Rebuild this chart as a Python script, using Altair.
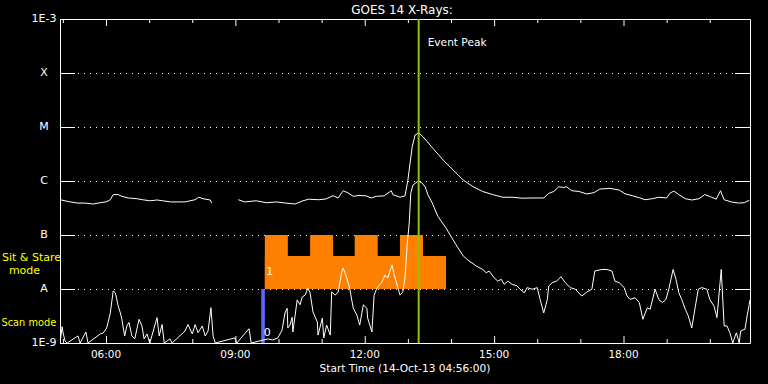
import altair as alt
import pandas as pd

FONT = "DejaVu Sans"

# ---------------- data ----------------
x_start, x_end = "04:56", "20:56"

# GOES 14 long channel (1-8 A), W/m^2
long_time = ["04:56", "05:10", "05:21", "05:31", "05:42", "05:52", "06:00", "06:06", "06:10", "06:17",
             "06:22", "06:31", "06:43", "06:51", "07:01", "07:11", "07:19", "07:30", "07:40", "07:50",
             "07:57", "08:04", "08:09", "08:15", "08:25", "08:27",
             "09:04", "09:13", "09:29", "09:43", "09:57", "10:10", "10:23", "10:34", "10:42", "10:56",
             "11:06", "11:16", "11:23", "11:30", "11:37", "11:44", "11:52", "12:02", "12:09", "12:16",
             "12:27", "12:37", "12:39", "12:49", "12:56", "13:00", "13:06", "13:10", "13:15", "13:21",
             "13:35", "13:49", "14:03", "14:17", "14:31", "14:44", "14:58", "15:12", "15:25", "15:39",
             "15:53", "16:09", "16:16", "16:23", "16:30", "16:37", "16:41", "16:48", "16:58", "17:09",
             "17:19", "17:27", "17:41", "17:54", "18:02", "18:12", "18:22", "18:30", "18:40", "18:49",
             "19:00", "19:05", "19:10", "19:17", "19:26", "19:35", "19:45", "19:53", "20:01", "20:09",
             "20:15", "20:20", "20:30", "20:40", "20:48", "20:55"]
long_flux = [4.5e-7, 4.1e-7, 3.9e-7, 3.9e-7, 3.75e-7, 3.96e-7, 4.1e-7, 4.5e-7, 5.6e-7, 5.6e-7,
             5.2e-7, 4.85e-7, 4.7e-7, 4.5e-7, 4.3e-7, 4.45e-7, 4.3e-7, 4.1e-7, 4.1e-7, 4.1e-7,
             4.3e-7, 4.5e-7, 5.0e-7, 4.7e-7, 4.45e-7, 3.9e-7,
             4.5e-7, 4.1e-7, 4.3e-7, 3.96e-7, 4.1e-7, 3.9e-7, 3.75e-7, 4.3e-7, 4.6e-7, 4.5e-7,
             4.65e-7, 5.35e-7, 4.85e-7, 6.6e-7, 6.0e-7, 5.2e-7, 5.4e-7, 5.3e-7, 4.85e-7, 5.2e-7,
             5.3e-7, 6.6e-7, 5.6e-7, 5.0e-7, 5.3e-7, 1.04e-6, 4.3e-6, 7.1e-6, 7.8e-6, 6.6e-6,
             4.0e-6, 2.45e-6, 1.6e-6, 1.04e-6, 7.8e-7, 6.4e-7, 5.6e-7, 5.0e-7, 5.0e-7, 4.8e-7,
             4.85e-7, 4.85e-7, 5.9e-7, 6.4e-7, 7.8e-7, 7.6e-7, 7.8e-7, 6.6e-7, 6.4e-7, 5.75e-7,
             6.1e-7, 7.1e-7, 7.3e-7, 6.8e-7, 5.8e-7, 5.35e-7, 4.9e-7, 4.5e-7, 4.7e-7, 5.0e-7,
             4.85e-7, 6.0e-7, 6.5e-7, 5.6e-7, 4.7e-7, 4.45e-7, 4.7e-7, 5.6e-7, 5.1e-7, 4.6e-7,
             6.6e-7, 4.5e-7, 4.1e-7, 3.9e-7, 3.96e-7, 4.4e-7]

# GOES 14 short channel (0.5-4 A), W/m^2
short_time = ["04:56", "04:59", "05:00", "05:03", "05:06", "05:21", "05:24", "05:32", "05:35", "05:52",
              "05:56", "06:01", "06:06", "06:10", "06:13", "06:15", "06:17", "06:20", "06:22", "06:24",
              "06:26", "06:29", "06:32", "06:36", "06:40", "06:46", "06:50", "06:53", "06:57", "07:01",
              "07:11", "07:14", "07:18", "07:21", "07:29", "07:32", "07:50", "07:54", "08:00", "08:04",
              "08:08", "08:14", "08:18", "08:22", "08:26", "08:29", "08:32", "08:59", "09:02", "09:19",
              "09:22", "09:45", "09:52", "09:59", "10:05", "10:09", "10:12", "10:13", "10:16", "10:19",
              "10:20", "10:26", "10:30", "10:33", "10:37", "10:41", "10:44", "10:48", "10:54", "10:55",
              "11:01", "11:03", "11:07", "11:12", "11:14", "11:19", "11:23", "11:28", "11:30", "11:35",
              "11:39", "11:44", "11:49", "11:53", "11:58", "12:03", "12:04", "12:10", "12:13", "12:17",
              "12:24", "12:28", "12:32", "12:38", "12:41", "12:45", "12:49", "12:53", "12:56", "12:59",
              "13:02", "13:04", "13:07", "13:13", "13:15", "13:20", "13:24", "13:28", "13:34", "13:38",
              "13:42", "13:53", "14:07", "14:17", "14:25", "14:32", "14:35", "14:44", "14:49", "14:53",
              "15:00", "15:05", "15:10", "15:14", "15:19", "15:25", "15:32", "15:36", "15:42", "15:46",
              "15:53", "16:00", "16:04", "16:09", "16:14", "16:16", "16:21", "16:27", "16:33", "16:39",
              "16:46", "16:53", "17:02", "17:09", "17:16", "17:20", "17:30", "17:37", "17:44", "17:48",
              "17:54", "18:01", "18:05", "18:09", "18:16", "18:22", "18:27", "18:33", "18:37", "18:44",
              "18:49", "18:54", "18:59", "19:03", "19:09", "19:13", "19:17", "19:21", "19:26", "19:30",
              "19:35", "19:40", "19:44", "19:49", "19:56", "20:00", "20:06", "20:10", "20:16", "20:20",
              "20:24", "20:28", "20:32", "20:37", "20:41", "20:43", "20:49", "20:52", "20:55", "20:56"]
short_flux = [1e-9, 2.0e-9, 1.6e-9, 1.09e-9, 1e-9, 1.35e-9, 1e-9, 1.6e-9, 1e-9, 1.47e-9,
              1.53e-9, 1.9e-9, 3.6e-9, 9.2e-9, 8.5e-9, 6.5e-9, 4.8e-9, 3.6e-9, 2.8e-9, 1.9e-9,
              1.35e-9, 2.07e-9, 2.4e-9, 1.35e-9, 1.19e-9, 2.75e-9, 2.07e-9, 1.19e-9, 1.47e-9, 1e-9,
              2.95e-9, 1.35e-9, 2.2e-9, 1e-9, 1.19e-9, 1e-9, 1.67e-9, 2.2e-9, 1.47e-9, 2.2e-9,
              1.55e-9, 2.07e-9, 1.35e-9, 1.67e-9, 4.5e-9, 1.35e-9, 1e-9, 1.24e-9, 1e-9, 1.84e-9,
              1e-9, 1.19e-9, 1.14e-9, 1.24e-9, 1.74e-9, 3.6e-9, 4.4e-9, 1.9e-9, 2.15e-9, 3.0e-9,
              1.6e-9, 6.3e-9, 5.1e-9, 7.1e-9, 7.7e-9, 1.04e-8, 8.4e-9, 3.75e-9, 2.45e-9, 1.4e-9,
              2.9e-9, 1.24e-9, 2.15e-9, 1.4e-9, 8.8e-9, 7.7e-9, 8.8e-9, 2.07e-8, 2.45e-8, 1.6e-8,
              1.04e-8, 4.4e-9, 3.3e-9, 2.15e-9, 5.1e-9, 4.4e-9, 2.9e-9, 1.6e-9, 7.7e-9, 1.04e-8,
              1.35e-8, 1.8e-8, 1.6e-8, 2.8e-8, 1.8e-8, 1.19e-8, 7.7e-9, 8.8e-9, 1.6e-8, 6.5e-8,
              1.74e-7, 5.9e-7, 8.4e-7, 9.7e-7, 1.0e-6, 9.1e-7, 7.8e-7, 5.5e-7, 3.9e-7, 2.9e-7,
              2.2e-7, 1.35e-7, 6.6e-8, 4.1e-8, 3.3e-8, 2.87e-8, 2.67e-8, 2.3e-8, 2.0e-8, 2.15e-8,
              1.62e-8, 1.4e-8, 1.51e-8, 1.22e-8, 1.4e-8, 1.22e-8, 1.14e-8, 9.9e-9, 8.5e-9, 1.06e-8,
              9.9e-9, 1.06e-8, 6.4e-9, 3.6e-9, 6.4e-9, 1.14e-8, 1.31e-8, 1.4e-8, 1.69e-8, 1.31e-8,
              1.06e-8, 9.9e-9, 7.4e-9, 8.8e-9, 9.9e-9, 2.15e-8, 2.3e-8, 2.3e-8, 2.15e-8, 1.4e-8,
              1.31e-8, 1.06e-8, 7.4e-9, 6.4e-9, 6.9e-9, 5.6e-9, 2.75e-9, 4.5e-9, 4.2e-9, 9.9e-9,
              6.4e-9, 5.6e-9, 6.4e-9, 9.9e-9, 2.3e-8, 1.51e-8, 8.5e-9, 6.4e-9, 4.2e-9, 3.2e-9,
              1.9e-9, 4.8e-9, 9.9e-9, 1.06e-8, 9.9e-9, 6.4e-9, 4.8e-9, 2.95e-9, 2.3e-8, 2.07e-9,
              2.07e-9, 1.55e-9, 1e-9, 1.55e-9, 1e-9, 1.67e-9, 1.8e-9, 3.2e-9, 5.2e-9, 6.3e-9]

# flux levels and their labels
level_values = [1e-9, 1e-8, 1e-7, 1e-6, 1e-5, 1e-4, 1e-3]
level_labels = ["1E-9", "A", "B", "C", "M", "X", "1E-3"]
inner_levels = [1e-8, 1e-7, 1e-6, 1e-5, 1e-4]

# hour ticks and labels
major_hours = [6, 9, 12, 15, 18]
major_labels = ["06:00", "09:00", "12:00", "15:00", "18:00"]
minor_hours = [5, 7, 8, 10, 11, 13, 14, 16, 17, 19, 20]

# observing modes (Sit & Stare = 1, Scan = 0)
sit_block_start, sit_block_end, sit_block_top = "09:41", "13:53", 4.1e-8
sit_start = ["09:41", "10:44", "11:46", "12:49"]
sit_end = ["10:13", "11:16", "12:18", "13:21"]
sit_top = 1e-7
sit_base = 1e-8
scan_start, scan_end, scan_base, scan_top = "09:36", "09:41", 1e-9, 1e-8

peak_time = "13:15"

title_text = "GOES 14 X-Rays:"
xtitle_text = "Start Time (14-Oct-13 04:56:00)"


# ---------------- build tables ----------------
def hours(s):
    hh, mm = s.split(":")
    return int(hh) + int(mm) / 60.0


long_df = pd.DataFrame({"h": [hours(t) for t in long_time], "flux": long_flux})
long_df["seg"] = "L" + (long_df["h"].diff() > 0.5).cumsum().astype(str)
short_df = pd.DataFrame({"h": [hours(t) for t in short_time], "flux": short_flux})
short_df["seg"] = "S"
curves = pd.concat([long_df, short_df], ignore_index=True)

x_scale = alt.Scale(domain=[hours(x_start), hours(x_end)], nice=False, zero=False)
y_scale = alt.Scale(type="log", domain=[level_values[0], level_values[-1]], nice=False)

WHITE = "white"
YELLOW = "#ffff00"


def X(field="h"):
    return alt.X(f"{field}:Q", scale=x_scale, axis=None)


def Y(field):
    return alt.Y(f"{field}:Q", scale=y_scale, axis=None)


lines = alt.Chart(curves).mark_line(color=WHITE, strokeWidth=1, clip=True).encode(
    x=X(), y=Y("flux"), detail="seg:N", order="h:Q")

levels_df = pd.DataFrame({"v": level_values, "lab": level_labels})
grid = alt.Chart(levels_df).mark_rule(color=WHITE, strokeWidth=1, strokeDash=[1, 5], yOffset=0.5).encode(
    y=Y("v"), x=alt.value(0), x2=alt.value(690))
ylabels = alt.Chart(levels_df).mark_text(
    color=WHITE, font=FONT, fontSize=11, align="center", baseline="middle").encode(
    y=Y("v"), x=alt.value(-16), text="lab:N")

hours_df = pd.DataFrame({"h": major_hours, "lab": major_labels})
xlabels = alt.Chart(hours_df).mark_text(
    color=WHITE, font=FONT, fontSize=10.5, align="center", baseline="middle").encode(
    x=X(), y=alt.value(336), text="lab:N")

block_df = pd.DataFrame({"h": [hours(sit_block_start)], "h2": [hours(sit_block_end)],
                         "lo": [sit_base], "hi": [sit_block_top]})
sit_df = pd.DataFrame({"h": [hours(t) for t in sit_start], "h2": [hours(t) for t in sit_end],
                       "lo": sit_base, "hi": sit_top})
scan_df = pd.DataFrame({"h": [hours(scan_start)], "h2": [hours(scan_end)],
                        "lo": [scan_base], "hi": [scan_top]})


def rect_layer(df, color):
    return alt.Chart(df).mark_rect(color=color, strokeWidth=0).encode(
        x=X(), x2="h2:Q", y=Y("lo"), y2="hi:Q")


orange = "#ff8000"
block = rect_layer(block_df, orange)
sit = rect_layer(sit_df, orange)
scan = rect_layer(scan_df, "#6464ff")

mode_labels = pd.DataFrame({"h": [hours(sit_block_start), hours(scan_start)], "t": ["1", "0"]})
one_lbl = alt.Chart(mode_labels.iloc[[0]]).mark_text(
    color=WHITE, font=FONT, fontSize=11, align="center", baseline="middle", dx=5).encode(
    x=X(), y=alt.value(253), text="t:N")
zero_lbl = alt.Chart(mode_labels.iloc[[1]]).mark_text(
    color=WHITE, font=FONT, fontSize=11, align="center", baseline="middle", dx=6).encode(
    x=X(), y=alt.value(314), text="t:N")

peak_df = pd.DataFrame({"h": [hours(peak_time)], "t": ["Event Peak"]})
peak = alt.Chart(peak_df).mark_rule(color="#8fc400", strokeWidth=2).encode(x=X())
peak_txt = alt.Chart(peak_df).mark_text(
    color=WHITE, font=FONT, fontSize=10.6, align="left", baseline="middle", dx=9).encode(
    x=X(), y=alt.value(24), text="t:N")

lev_df = pd.DataFrame({"v": inner_levels})
ytick_l = alt.Chart(lev_df).mark_rule(color=WHITE, strokeWidth=1, yOffset=0.5).encode(
    y=Y("v"), x=alt.value(0), x2=alt.value(15))
ytick_r = alt.Chart(lev_df).mark_rule(color=WHITE, strokeWidth=1, yOffset=0.5).encode(
    y=Y("v"), x=alt.value(675), x2=alt.value(690))

maj_df = pd.DataFrame({"h": major_hours})
min_df = pd.DataFrame({"h": minor_hours})


def xtick(df, y0, y1):
    return alt.Chart(df).mark_rule(color=WHITE, strokeWidth=1, xOffset=0.5).encode(
        x=X(), y=alt.value(y0), y2=alt.value(y1))


xticks = [xtick(maj_df, 0, 7), xtick(min_df, 0, 4), xtick(maj_df, 317, 324), xtick(min_df, 320, 324)]


def free_text(txt, x, y, size=10.6, color=WHITE, align="center"):
    return alt.Chart(pd.DataFrame({"t": [txt]})).mark_text(
        color=color, font=FONT, fontSize=size, align=align, baseline="middle").encode(
        x=alt.value(x), y=alt.value(y), text="t:N")


texts = [
    free_text(title_text, 342, -9, size=12),
    free_text(xtitle_text, 345, 350, size=10.6),
    free_text("Sit & Stare", -58, 239, size=11, color=YELLOW, align="left"),
    free_text("mode", -35.5, 252, size=11, color=YELLOW),
    free_text("Scan mode", -58.5, 304, size=9.8, color=YELLOW, align="left"),
]

chart = alt.layer(
    grid, block, sit, scan, lines, peak, ytick_l, ytick_r, *xticks,
    ylabels, xlabels, one_lbl, zero_lbl, peak_txt, *texts
).properties(
    width=690, height=324,
    padding={"left": 60, "top": 19, "right": 18, "bottom": 41},
    autosize=alt.AutoSizeParams(type="none"),
    background="black",
).configure_view(stroke=WHITE, strokeWidth=1, fill="black")

chart.save("out.html", embed_options={"renderer": "svg", "actions": False})
